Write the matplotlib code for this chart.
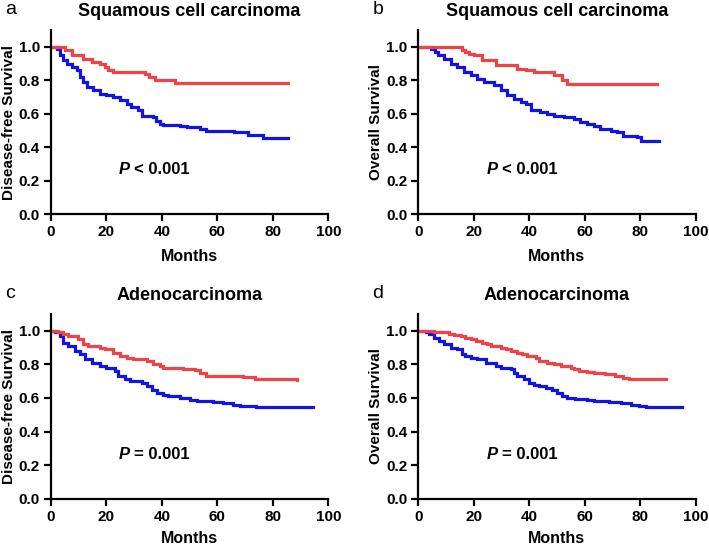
import matplotlib
matplotlib.use('Agg')
import matplotlib.pyplot as plt

plt.rcParams['font.family'] = ['Liberation Sans', 'DejaVu Sans']

RED = '#EE4448'
BLUE = '#1414E0'

# panel a: disease-free survival, squamous cell carcinoma
a_red_t = [0, 3.8, 5, 7.5, 11.7, 14.7, 17.7, 19.5, 20.7, 22.5, 34, 35.5, 37.5, 44.7, 85.6]
a_red_s = [1.0, 1.0, 0.98, 0.95, 0.93, 0.91, 0.90, 0.88, 0.86, 0.85, 0.84, 0.82, 0.80, 0.785, 0.785]
a_blue_t = [0, 2, 3.2, 4.3, 5.6, 7.5, 9.3, 10.5, 11.7, 12.9, 15.3, 17.7, 20, 22.5, 24.9,
            27.3, 29, 31.5, 32.7, 36.9, 38, 39.3, 40.5, 46.5, 49, 53.7, 56, 60, 66, 71, 76.5, 85.6]
a_blue_s = [1.0, 0.99, 0.95, 0.92, 0.90, 0.88, 0.86, 0.82, 0.79, 0.76, 0.74, 0.72, 0.71, 0.70, 0.68,
            0.66, 0.64, 0.62, 0.59, 0.58, 0.56, 0.54, 0.535, 0.53, 0.52, 0.51, 0.50, 0.495, 0.49, 0.475, 0.455, 0.455]

# panel b: overall survival, squamous cell carcinoma
b_red_t = [0, 15.9, 17, 18.3, 20, 23, 27.9, 35.7, 39, 41.7, 48.9, 52, 53.7, 86.2]
b_red_s = [1.0, 0.98, 0.97, 0.96, 0.95, 0.92, 0.89, 0.87, 0.86, 0.85, 0.83, 0.80, 0.78, 0.78]
b_blue_t = [0, 4.4, 6, 7, 9.3, 11.7, 14, 16.5, 18.9, 21.3, 23.7, 27.3, 29.7, 32, 34.5, 36.9,
            38.7, 40.5, 44, 46.5, 49, 52.5, 56, 58.5, 61, 63.3, 65.7, 69.4, 71.8, 74, 79, 80.2, 86.8]
b_blue_s = [1.0, 0.99, 0.97, 0.95, 0.93, 0.90, 0.88, 0.85, 0.83, 0.81, 0.79, 0.77, 0.74, 0.71, 0.69, 0.67,
            0.66, 0.62, 0.61, 0.60, 0.59, 0.58, 0.57, 0.55, 0.54, 0.53, 0.51, 0.50, 0.49, 0.47, 0.46, 0.435, 0.435]

# panel c: disease-free survival, adenocarcinoma
c_red_t = [0, 2.6, 4.4, 6.2, 9.9, 11.7, 13.5, 17.7, 19.5, 22.5, 24.9, 27.3, 29.7, 34.5, 36.9,
           39.3, 40.5, 47.7, 52, 53.7, 56, 69.4, 73.6, 88.6]
c_red_s = [1.0, 0.99, 0.98, 0.97, 0.95, 0.92, 0.91, 0.90, 0.89, 0.87, 0.85, 0.84, 0.83, 0.82, 0.80,
           0.79, 0.78, 0.77, 0.765, 0.75, 0.73, 0.725, 0.71, 0.705]
c_blue_t = [0, 1.4, 3.2, 4.4, 6.2, 8.7, 10.5, 12.3, 14.7, 17.7, 20, 23, 24.3, 26.7, 28.5, 32.7,
            34.5, 36.3, 38.1, 40.5, 42.3, 46.5, 50, 52.5, 58.5, 62, 65.7, 68, 73, 74, 94.6]
c_blue_s = [1.0, 0.99, 0.97, 0.93, 0.91, 0.88, 0.86, 0.83, 0.81, 0.79, 0.78, 0.76, 0.73, 0.71, 0.70, 0.69,
            0.67, 0.65, 0.63, 0.62, 0.61, 0.60, 0.59, 0.58, 0.575, 0.57, 0.56, 0.555, 0.55, 0.545, 0.545]

# panel d: overall survival, adenocarcinoma
d_red_t = [0, 5.6, 8.7, 11, 13, 15.3, 17, 18.9, 20.7, 23, 24.9, 26.1, 29.7, 31.5, 33.3, 35.7, 37.5,
           39.3, 42.3, 43.5, 46.5, 49, 51.3, 55, 56, 58, 61, 63.3, 67.5, 71, 74, 76, 89.2]
d_red_s = [1.0, 0.995, 0.99, 0.98, 0.975, 0.97, 0.96, 0.95, 0.94, 0.93, 0.92, 0.91, 0.90, 0.89, 0.88, 0.87, 0.86,
           0.85, 0.84, 0.82, 0.81, 0.80, 0.79, 0.78, 0.77, 0.76, 0.755, 0.75, 0.74, 0.73, 0.72, 0.71, 0.71]
d_blue_t = [0, 2.6, 3.8, 5.6, 7.5, 9.3, 11.7, 14, 15.9, 17, 18.9, 21.3, 24.3, 25.5, 27.9, 29.7, 33.3,
            34.5, 35.7, 38.1, 39.9, 41.7, 43.5, 45.9, 48.3, 50, 52, 53.7, 56.7, 61, 63.3, 68.8, 73,
            76.6, 79.6, 82, 95.2]
d_blue_s = [1.0, 0.99, 0.98, 0.96, 0.94, 0.92, 0.90, 0.89, 0.86, 0.85, 0.84, 0.83, 0.81, 0.81, 0.79, 0.78, 0.77,
            0.75, 0.73, 0.71, 0.69, 0.68, 0.67, 0.66, 0.65, 0.63, 0.61, 0.60, 0.595, 0.59, 0.58, 0.575, 0.57,
            0.56, 0.555, 0.545, 0.545]

letters = ['a', 'b', 'c', 'd']
titles = ['Squamous cell carcinoma', 'Squamous cell carcinoma', 'Adenocarcinoma', 'Adenocarcinoma']
ylabels = ['Disease-free Survival', 'Overall Survival', 'Disease-free Survival', 'Overall Survival']
pvalues = ['< 0.001', '< 0.001', '= 0.001', '= 0.001']
curves = [
    (a_red_t, a_red_s, a_blue_t, a_blue_s),
    (b_red_t, b_red_s, b_blue_t, b_blue_s),
    (c_red_t, c_red_s, c_blue_t, c_blue_s),
    (d_red_t, d_red_s, d_blue_t, d_blue_s),
]

fig = plt.figure(figsize=(7.09, 5.48), dpi=100)
positions = [
    [0.072, 0.609, 0.391, 0.336],
    [0.590, 0.609, 0.391, 0.336],
    [0.072, 0.090, 0.391, 0.337],
    [0.590, 0.090, 0.391, 0.337],
]

for i, pos in enumerate(positions):
    ax = fig.add_axes(pos)
    rt, rs, bt, bs = curves[i]
    ax.step(bt, bs, where='post', color=BLUE, lw=2.3, solid_joinstyle='miter')
    ax.step(rt, rs, where='post', color=RED, lw=2.3, solid_joinstyle='miter')

    ax.set_xlim(0, 100)
    ax.set_ylim(0, 1.1)
    ax.set_xticks([0, 20, 40, 60, 80, 100])
    ax.set_yticks([0.0, 0.2, 0.4, 0.6, 0.8, 1.0])
    ax.set_yticklabels(['0.0', '0.2', '0.4', '0.6', '0.8', '1.0'])
    ax.spines['top'].set_visible(False)
    ax.spines['right'].set_visible(False)
    for s in ['left', 'bottom']:
        ax.spines[s].set_linewidth(1.6)
    ax.tick_params(width=1.6, length=5, labelsize=11, pad=3)
    for lab in ax.get_xticklabels() + ax.get_yticklabels():
        lab.set_fontweight('bold')

    pad = 7 if i < 2 else 5
    ax.set_xlabel('Months', fontsize=11.5, fontweight='bold', labelpad=pad)
    ax.set_ylabel(ylabels[i], fontsize=11, fontweight='bold', labelpad=2)
    ax.set_title(titles[i], fontsize=13, fontweight='bold', pad=10)

    ax.text(24.5, 0.265, 'P', fontsize=12, fontweight='bold', fontstyle='italic',
            va='center', ha='left')
    ax.annotate(pvalues[i], xy=(24.5, 0.265), xytext=(11, 0), textcoords='offset points',
                fontsize=12, fontweight='bold', va='center', ha='left')

    fig.text(pos[0] - 0.065, pos[1] + pos[3] + 0.038, letters[i], fontsize=14, va='center', ha='left')

fig.savefig('out.png', dpi=100)
